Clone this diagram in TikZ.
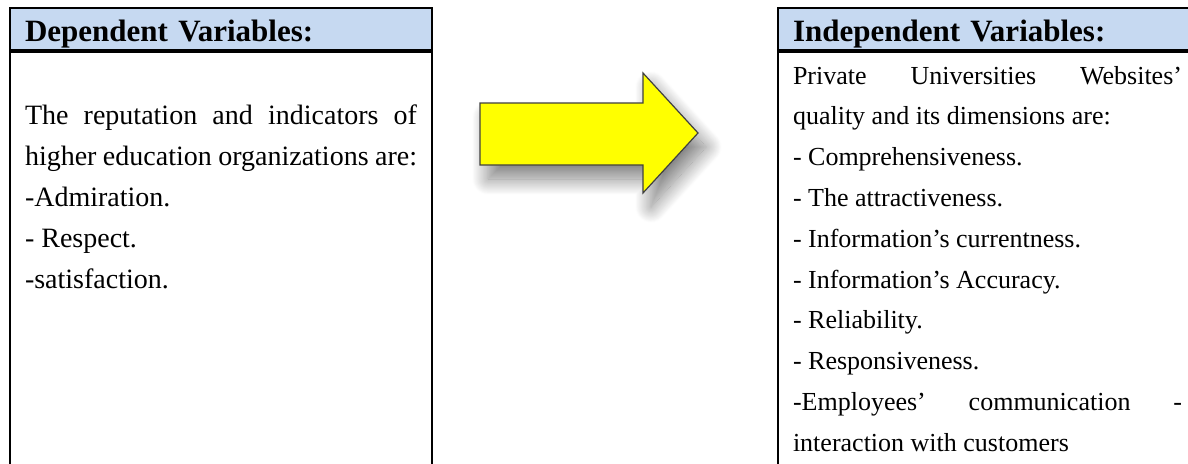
\documentclass[tikz,border=0pt]{standalone}
\usepackage{fontspec}
\setmainfont{Liberation Serif}
\usepackage{xcolor}
\usepackage{tikz}
\usetikzlibrary{positioning,shadows.blur}
\definecolor{headblue}{HTML}{C6D9F1}
\definecolor{arrowfill}{HTML}{FFFF00}
\newcommand{\fullline}[1]{\makebox[\hsize][s]{\spaceskip=0pt\xspaceskip=0pt\relax #1}}

\begin{document}
\begin{tikzpicture}[x=1pt,y=-1pt,
  varhead/.style={draw,line width=2pt,fill=headblue,anchor=north west,text width=392pt,align=left,
    inner xsep=15pt,inner ysep=0pt,minimum height=42pt,text height=24pt,text depth=0pt,
    font=\fontsize{31}{36}\selectfont\bfseries},
  varbody/.style={draw,line width=2pt,text width=392pt,align=left,inner xsep=15pt,inner ysep=0pt,text depth=500pt},
  flowarrow/.style={fill=arrowfill,draw=black!75,line width=1.2pt,line join=miter,
    blur shadow={shadow xshift=8pt,shadow yshift=-14pt,shadow blur radius=16pt,shadow blur steps=30,shadow opacity=50}}]
  \useasboundingbox (0,0) rectangle (1188,463);
  \clip (0,0) rectangle (1188,463);
  % left box
  \node[varhead] (dephead) at (9,7) {Dependent Variables:};
  \node[varbody,below=0pt of dephead,font=\fontsize{28}{40.8}\selectfont] (depbody) {%
  \spaceskip=0pt\xspaceskip=0pt\relax
  \rule{0pt}{32pt}\\
  \fullline{The reputation and indicators of}\\
  \fullline{higher education organizations are:}\\
  -Admiration.\\
  - Respect.\\
  -satisfaction.};
  % right box
  \node[varhead] (indhead) at (777,7) {Independent Variables:};
  \node[varbody,text width=389pt,below=0pt of indhead.south west,anchor=north west,
    font=\fontsize{26}{40.8}\selectfont] (indbody) {%
  \spaceskip=0pt\xspaceskip=0pt\relax
  \rule{0pt}{32pt}\fullline{Private Universities Websites’}\\
  quality and its dimensions are:\\
  - Comprehensiveness.\\
  - The attractiveness.\\
  - Information’s currentness.\\
  - Information’s Accuracy.\\
  - Reliability.\\
  - Responsiveness.\\
  \fullline{-Employees’ communication -}\\
  interaction with customers};
  % arrow between the boxes
  \draw[flowarrow] (480,103) -- (643,103) -- (643,73) -- (698,133) -- (643,193) -- (643,165) -- (480,165) -- cycle;
\end{tikzpicture}
\end{document}
